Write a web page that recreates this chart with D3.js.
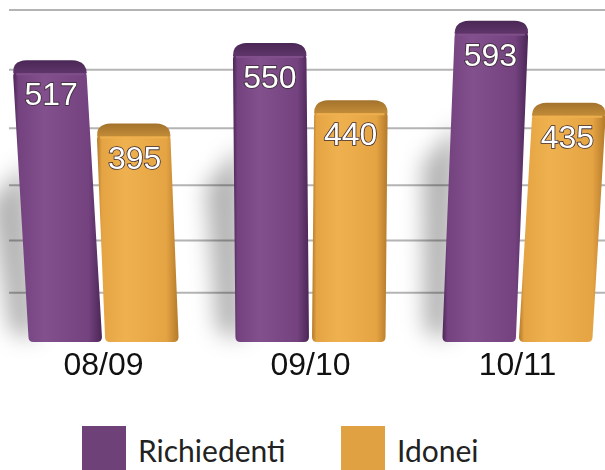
<!DOCTYPE html>
<html><head><meta charset="utf-8">
<script src="https://cdn.jsdelivr.net/npm/d3@7"></script>
<style>html,body{margin:0;padding:0;background:#fff;overflow:hidden}</style>
</head><body>
<svg id="chart" width="605" height="470"></svg>
<script>
const categories = ["08/09", "09/10", "10/11"];
const seriesNames = ["Richiedenti", "Idonei"];
const richiedenti = [517, 550, 593];
const idonei = [395, 440, 435];
const gridTicks = [100, 200, 300, 400, 500, 600];

const colors = {
  Richiedenti: {front: "#73427f", light: "#81508d", edge: "#4b2656", cap: "#4a2756", capLight: "#5f3569", legend: "#6e4278"},
  Idonei: {front: "#e5a443", light: "#efb14f", edge: "#b47a2b", cap: "#a3722c", capLight: "#c28c38", legend: "#dfa142"}
};

const svg = d3.select("#chart");
const W = 605, H = 470;
const defs = svg.append("defs");
defs.append("filter").attr("id", "blur").attr("x", "-50%").attr("y", "-50%").attr("width", "200%").attr("height", "200%")
  .append("feGaussianBlur").attr("stdDeviation", 11);

seriesNames.forEach(s => {
  const c = colors[s];
  const g = defs.append("linearGradient").attr("id", "front-" + s).attr("x1", 0).attr("x2", 1).attr("y1", 0).attr("y2", 0);
  g.append("stop").attr("offset", 0).attr("stop-color", c.edge);
  g.append("stop").attr("offset", 0.06).attr("stop-color", c.front);
  g.append("stop").attr("offset", 0.35).attr("stop-color", c.light);
  g.append("stop").attr("offset", 0.85).attr("stop-color", c.front);
  g.append("stop").attr("offset", 1).attr("stop-color", c.edge);
  const gc = defs.append("linearGradient").attr("id", "cap-" + s).attr("x1", 0).attr("x2", 0).attr("y1", 0).attr("y2", 1);
  gc.append("stop").attr("offset", 0).attr("stop-color", c.cap);
  gc.append("stop").attr("offset", 1).attr("stop-color", c.capLight);
});

const x0 = d3.scaleBand().domain(categories).range([0, 621]).paddingInner(0.275).paddingOuter(0.1375);
const x1 = d3.scaleBand().domain(seriesNames).range([0, x0.bandwidth()]).paddingInner(0.04);
const y = d3.scaleLinear().domain([0, 600]).range([342, 30]);
const yGrid = d3.scalePow().exponent(1.1).domain([0, 600]).range([338.5, 10]);
const capH = 13;
const vanishX = 310, leanK = 0.00023;

// gridlines (back wall)
svg.append("g").selectAll("line").data(gridTicks).join("line")
  .attr("x1", 9).attr("x2", W)
  .attr("y1", d => yGrid(d)).attr("y2", d => yGrid(d))
  .attr("stroke", "#b4b4b4").attr("stroke-width", 2);

const data = categories.map((cat, i) => ({cat, values: [
  {s: "Richiedenti", v: richiedenti[i]},
  {s: "Idonei", v: idonei[i]}
]}));

// geometry helper: bottom x-range and lean offset at given y
function geom(cat, d) {
  const a = x0(cat) + x1(d.s), b = a + x1.bandwidth();
  const cx = (a + b) / 2;
  const shift = yy => leanK * (cx - vanishX) * (y(0) - yy);
  return {a, b, cx, shift};
}

// shadows
svg.append("g").attr("filter", "url(#blur)").selectAll("path").data(data).join("path")
  .attr("d", d => {
    const g = geom(d.cat, d.values[0]);
    const top = y(d.values[0].v) + 90;
    const xl = g.a + g.shift(top);
    return `M${xl - 28},${top + 40} L${xl + 8},${top} L${g.a + 8},${y(0) - 4} L${g.a - 18},${y(0) - 10} Z`;
  })
  .attr("fill", "#000").attr("opacity", 0.3);

const groups = svg.append("g").selectAll("g").data(data).join("g");
const bars = groups.selectAll("g").data(d => d.values.map(v => Object.assign({cat: d.cat}, v))).join("g");

// front face
bars.append("path")
  .attr("d", d => {
    const g = geom(d.cat, d);
    const top = y(d.v) - 2, bot = y(0), r = 5;
    const st = g.shift(top);
    return `M${g.a + st},${top + r} Q${g.a + st},${top} ${g.a + st + r},${top} L${g.b + st - r},${top} Q${g.b + st},${top} ${g.b + st},${top + r}` +
      ` L${g.b},${bot - r} Q${g.b},${bot} ${g.b - r},${bot} L${g.a + r},${bot} Q${g.a},${bot} ${g.a},${bot - r} Z`;
  })
  .attr("fill", d => `url(#front-${d.s})`);

// cap
bars.append("path")
  .attr("d", d => {
    const g = geom(d.cat, d);
    const t = y(d.v) - capH, m = y(d.v);
    const s = g.shift(m), st = g.shift(t);
    const a = g.a + s, b = g.b + s, at = g.a + st, bt = g.b + st;
    return `M${a},${m} Q${at},${t + 3} ${at + 8},${t + 1} Q${at + 10},${t} ${at + 14},${t} L${bt - 14},${t} Q${bt - 10},${t} ${bt - 8},${t + 1} Q${bt},${t + 3} ${b},${m} Z`;
  })
  .attr("fill", d => `url(#cap-${d.s})`);

// highlight edge
bars.append("path")
  .attr("d", d => {
    const g = geom(d.cat, d);
    const m = y(d.v), s = g.shift(m);
    return `M${g.a + s + 3},${m + 1} L${g.b + s - 3},${m + 1}`;
  })
  .attr("stroke", d => colors[d.s].light).attr("stroke-width", 2).attr("opacity", 0.9);

// value labels
bars.append("text")
  .attr("x", d => { const g = geom(d.cat, d); return g.cx + g.shift(y(d.v) + 20); })
  .attr("y", d => y(d.v) + 32)
  .attr("text-anchor", "middle")
  .attr("font-family", "'Liberation Sans', Arial, Helvetica, sans-serif")
  .attr("font-size", 32)
  .attr("fill", "#fff")
  .attr("stroke", "#3a2b33").attr("stroke-width", 1.6).attr("paint-order", "stroke")
  .text(d => d.v);

// category axis labels
svg.append("g").selectAll("text").data(categories).join("text")
  .attr("x", d => x0(d) + x0.bandwidth() / 2)
  .attr("y", 375)
  .attr("text-anchor", "middle")
  .attr("font-family", "'Liberation Sans', Arial, Helvetica, sans-serif")
  .attr("font-size", 32)
  .attr("fill", "#111")
  .text(d => d);

// legend
const legendX = [82, 341];
const legend = svg.append("g").selectAll("g").data(seriesNames).join("g")
  .attr("transform", (d, i) => `translate(${legendX[i]},426)`);
legend.append("rect").attr("width", 44).attr("height", 50).attr("fill", d => colors[d].legend);
legend.append("text")
  .attr("x", 56).attr("y", 36)
  .attr("font-family", "Lato, 'Open Sans', sans-serif")
  .attr("font-size", 30)
  .attr("fill", "#222")
  .text(d => d);
</script>
</body></html>
